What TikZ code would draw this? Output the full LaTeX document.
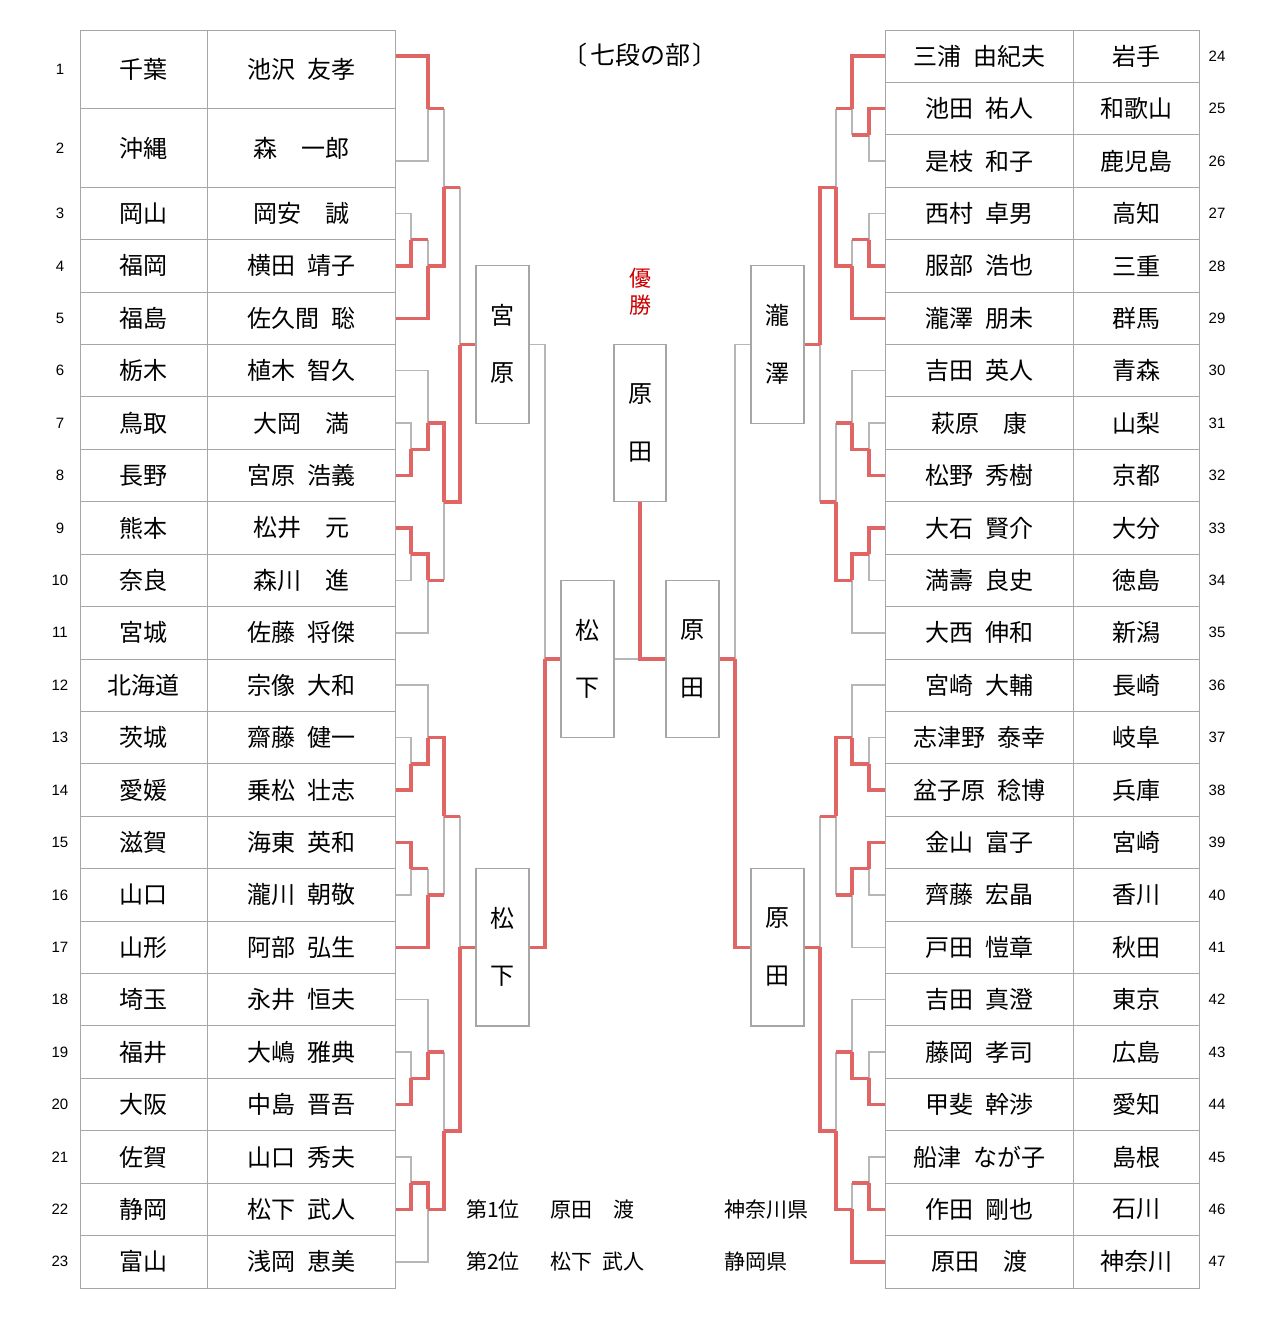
\documentclass[tikz,border=0pt]{standalone}
\usepackage{fontspec}
\setmainfont{Noto Sans CJK JP}
\newfontfamily\numfont{Liberation Sans}
\definecolor{linered}{HTML}{E06666}
\definecolor{linegray}{HTML}{B7B7B7}
\definecolor{tabgray}{HTML}{A6A6A6}
\definecolor{textred}{HTML}{CC0000}
\newcommand\hs{\hspace{0.5em}}
\pgfdeclarelayer{bg}
\pgfsetlayers{bg,main}
\begin{document}
\begin{tikzpicture}[x=1pt,y=-52.4167pt,
  lose/.style={draw=linegray,line width=1.5pt},
  win/.style={draw=linered,line width=3.5pt,line cap=square},
  tab/.style={draw=tabgray,line width=1pt},
  cell/.style={font=\fontsize{24}{28}\selectfont,inner sep=0pt},
  num/.style={font=\numfont\fontsize{15}{18}\selectfont,inner sep=0pt},
  rbox/.style={draw=tabgray,line width=1.2pt,fill=white,minimum width=53pt,minimum height=157.25pt,inner sep=0pt},
  bchar/.style={font=\fontsize{24}{28}\selectfont,inner sep=0pt},
  res/.style={font=\fontsize{21}{24}\selectfont,inner sep=0pt,anchor=west}]
\useasboundingbox (0,-1.07237) rectangle (1280,24.1103);

% ---------- tables ----------
\draw[tab] (80,-0.5) rectangle (395,23.5);
\draw[tab] (207,-0.5) -- (207,23.5);
\draw[tab] (80,1) -- (395,1);
\foreach \k in {3,...,23} \draw[tab] (80,{\k-0.5}) -- (395,{\k-0.5});
\draw[tab] (885,-0.5) rectangle (1199,23.5);
\draw[tab] (1073,-0.5) -- (1073,23.5);
\foreach \k in {1,...,23} \draw[tab] (885,{\k-0.5}) -- (1199,{\k-0.5});

% ---------- left table texts ----------
\foreach \n/\y/\p/\nm in {
 1/0.25/千葉/池沢\hs 友孝, 2/1.75/沖縄/森　一郎, 3/3/岡山/岡安　誠,
 4/4/福岡/横田\hs 靖子, 5/5/福島/佐久間\hs 聡, 6/6/栃木/植木\hs 智久,
 7/7/鳥取/大岡　満, 8/8/長野/宮原\hs 浩義, 9/9/熊本/松井　元,
 10/10/奈良/森川　進, 11/11/宮城/佐藤\hs 将傑, 12/12/北海道/宗像\hs 大和,
 13/13/茨城/齋藤\hs 健一, 14/14/愛媛/乗松\hs 壮志, 15/15/滋賀/海東\hs 英和,
 16/16/山口/瀧川\hs 朝敬, 17/17/山形/阿部\hs 弘生, 18/18/埼玉/永井\hs 恒夫,
 19/19/福井/大嶋\hs 雅典, 20/20/大阪/中島\hs 晋吾, 21/21/佐賀/山口\hs 秀夫,
 22/22/静岡/松下\hs 武人, 23/23/富山/浅岡\hs 恵美}{
  \node[num] (ln\n) at (60,\y) {\n};
  \node[cell] (lp\n) at (143.5,\y) {\p};
  \node[cell] (lm\n) at (301,\y) {\nm};
}
% ---------- right table texts ----------
\foreach \n/\nm/\p in {
 24/三浦\hs 由紀夫/岩手, 25/池田\hs 祐人/和歌山, 26/是枝\hs 和子/鹿児島,
 27/西村\hs 卓男/高知, 28/服部\hs 浩也/三重, 29/瀧澤\hs 朋未/群馬,
 30/吉田\hs 英人/青森, 31/萩原　康/山梨, 32/松野\hs 秀樹/京都,
 33/大石\hs 賢介/大分, 34/満壽\hs 良史/徳島, 35/大西\hs 伸和/新潟,
 36/宮崎\hs 大輔/長崎, 37/志津野\hs 泰幸/岐阜, 38/盆子原\hs 稔博/兵庫,
 39/金山\hs 富子/宮崎, 40/齊藤\hs 宏晶/香川, 41/戸田\hs 愷章/秋田,
 42/吉田\hs 真澄/東京, 43/藤岡\hs 孝司/広島, 44/甲斐\hs 幹渉/愛知,
 45/船津\hs なが子/島根, 46/作田\hs 剛也/石川, 47/原田　渡/神奈川}{
  \node[cell] (rm\n) at (979,{\n-24}) {\nm};
  \node[cell] (rp\n) at (1136,{\n-24}) {\p};
  \node[num] (rn\n) at (1217,{\n-24}) {\n};
}

% ---------- boxes ----------
\node[rbox] (miyahara) at (502.5,5.5) {};
\node[rbox] (matsuL) at (502.5,17) {};
\node[rbox] (semiL) at (587.5,11.5) {};
\node[rbox,minimum width=52pt] (final) at (640,7) {};
\node[rbox] (semiR) at (692.5,11.5) {};
\node[rbox] (takizawa) at (777.5,5.5) {};
\node[rbox] (haraR) at (777.5,17) {};
\node[bchar] (c1) at (502.5,4.95) {宮};
\node[bchar] (c2) at (502.5,6.05) {原};
\node[bchar] (c3) at (502.5,16.45) {松};
\node[bchar] (c4) at (502.5,17.55) {下};
\node[bchar] (c5) at (587.5,10.95) {松};
\node[bchar] (c6) at (587.5,12.05) {下};
\node[bchar] (c7) at (640,6.45) {原};
\node[bchar] (c8) at (640,7.55) {田};
\node[bchar] (c9) at (692.5,10.95) {原};
\node[bchar] (c10) at (692.5,12.05) {田};
\node[bchar] (c11) at (777.5,4.95) {瀧};
\node[bchar] (c12) at (777.5,6.05) {澤};
\node[bchar] (c13) at (777.5,16.45) {原};
\node[bchar] (c14) at (777.5,17.55) {田};

% ---------- other texts ----------
\node[font=\fontsize{25}{28}\selectfont,inner sep=0pt] (title) at (640,-0.02) {〔\hspace{0.1em}七段の部\hspace{0.1em}〕};
\node[font=\fontsize{22}{24}\selectfont,inner sep=0pt,text=textred] (yu) at (640,4.23) {優};
\node[font=\fontsize{22}{24}\selectfont,inner sep=0pt,text=textred] (sho) at (640,4.75) {勝};
\node[res] (r1a) at (466,22) {第1位};
\node[res] (r1b) at (550,22) {原田　渡};
\node[res] (r1c) at (724,22) {神奈川県};
\node[res] (r2a) at (466,23) {第2位};
\node[res] (r2b) at (550,23) {松下\hs 武人};
\node[res] (r2c) at (724,23) {静岡県};

% ---------- coordinates ----------
\coordinate (p1) at (395,0);
\coordinate (p2) at (395,2);
\foreach \k in {3,...,23} \coordinate (p\k) at (395,\k);
\foreach \k in {24,...,47} \coordinate (p\k) at (885,{\k-24});
\coordinate (A1) at (428,1);   \coordinate (A2) at (411,3.5);
\coordinate (A3) at (428,4);   \coordinate (A4) at (444,2.5);
\coordinate (A5) at (411,7.5); \coordinate (A6) at (428,7);
\coordinate (A7) at (411,9.5); \coordinate (A8) at (428,10);
\coordinate (A9) at (444,8.5); \coordinate (A10) at (460,5.5);
\coordinate (B1) at (411,13.5); \coordinate (B2) at (428,13);
\coordinate (B3) at (411,15.5); \coordinate (B4) at (428,16);
\coordinate (B5) at (444,14.5); \coordinate (B6) at (411,19.5);
\coordinate (B7) at (428,19);   \coordinate (B8) at (411,21.5);
\coordinate (B9) at (428,22);   \coordinate (B10) at (444,20.5);
\coordinate (B11) at (460,17);  \coordinate (C1) at (545,11.5);
\coordinate (D1) at (869,1.5); \coordinate (D2) at (852,1);
\coordinate (D3) at (869,3.5); \coordinate (D4) at (852,4);
\coordinate (D5) at (836,2.5); \coordinate (D6) at (869,7.5);
\coordinate (D7) at (852,7);   \coordinate (D8) at (869,9.5);
\coordinate (D9) at (852,10);  \coordinate (D10) at (836,8.5);
\coordinate (D11) at (820,5.5);
\coordinate (E1) at (869,13.5); \coordinate (E2) at (852,13);
\coordinate (E3) at (869,15.5); \coordinate (E4) at (852,16);
\coordinate (E5) at (836,14.5); \coordinate (E6) at (869,19.5);
\coordinate (E7) at (852,19);   \coordinate (E8) at (869,21.5);
\coordinate (E9) at (852,22);   \coordinate (E10) at (836,20.5);
\coordinate (E11) at (820,17);  \coordinate (F1) at (735,11.5);
\coordinate (fin) at (640,11.5);

\begin{pgfonlayer}{bg}
% ---------- losing paths ----------
\draw[lose] (p2) -| (A1);
\draw[lose] (p3) -| (A2);
\draw[lose] (A2 -| A3) -- (A3);
\draw[lose] (A1 -| A4) -- (A4);
\draw[lose] (p7) -| (A5);
\draw[lose] (p6) -| (A6);
\draw[lose] (p10) -| (A7);
\draw[lose] (p11) -| (A8);
\draw[lose] (A8 -| A9) -- (A9);
\draw[lose] (A4 -| A10) -- (A10);
\draw[lose] (p13) -| (B1);
\draw[lose] (p12) -| (B2);
\draw[lose] (p16) -| (B3);
\draw[lose] (B3 -| B4) -- (B4);
\draw[lose] (B4 -| B5) -- (B5);
\draw[lose] (p19) -| (B6);
\draw[lose] (p18) -| (B7);
\draw[lose] (p21) -| (B8);
\draw[lose] (p23) -| (B9);
\draw[lose] (B7 -| B10) -- (B10);
\draw[lose] (B5 -| B11) -- (B11);
\draw[lose] (miyahara.east) -| (C1);
\draw[lose] (p26) -| (D1);
\draw[lose] (D1 -| D2) -- (D2);
\draw[lose] (p27) -| (D3);
\draw[lose] (D3 -| D4) -- (D4);
\draw[lose] (D2 -| D5) -- (D5);
\draw[lose] (p31) -| (D6);
\draw[lose] (p30) -| (D7);
\draw[lose] (p34) -| (D8);
\draw[lose] (p35) -| (D9);
\draw[lose] (D7 -| D10) -- (D10);
\draw[lose] (D10 -| D11) -- (D11);
\draw[lose] (p37) -| (E1);
\draw[lose] (p36) -| (E2);
\draw[lose] (p40) -| (E3);
\draw[lose] (p41) -| (E4);
\draw[lose] (E4 -| E5) -- (E5);
\draw[lose] (p43) -| (E6);
\draw[lose] (p42) -| (E7);
\draw[lose] (p45) -| (E8);
\draw[lose] (E8 -| E9) -- (E9);
\draw[lose] (E7 -| E10) -- (E10);
\draw[lose] (E5 -| E11) -- (E11);
\draw[lose] (takizawa.west) -| (F1);
\draw[lose] (semiL.east) -- (fin);
% ---------- winning paths ----------
\draw[win] (p1) -| (A1);
\draw[win] (p4) -| (A2);
\draw[win] (A2) -- (A2 -| A3);
\draw[win] (p5) -| (A3);
\draw[win] (A1) -- (A1 -| A4);
\draw[win] (A3) -| (A4);
\draw[win] (A4) -- (A4 -| A10);
\draw[win] (p8) -| (A5);
\draw[win] (A5) -| (A6);
\draw[win] (p9) -| (A7);
\draw[win] (A7) -| (A8);
\draw[win] (A6) -| (A9);
\draw[win] (A8) -- (A8 -| A9);
\draw[win] (A9) -| (A10);
\draw[win] (A10) -- (miyahara.west);
\draw[win] (p14) -| (B1);
\draw[win] (B1) -| (B2);
\draw[win] (p15) -| (B3);
\draw[win] (B3) -- (B3 -| B4);
\draw[win] (p17) -| (B4);
\draw[win] (B2) -| (B5);
\draw[win] (B4) -- (B4 -| B5);
\draw[win] (p20) -| (B6);
\draw[win] (B6) -| (B7);
\draw[win] (p22) -| (B8);
\draw[win] (B8) -| (B9);
\draw[win] (B7) -- (B7 -| B10);
\draw[win] (B9) -| (B10);
\draw[win] (B5) -- (B5 -| B11);
\draw[win] (B10) -| (B11);
\draw[win] (B11) -- (matsuL.west);
\draw[win] (matsuL.east) -| (C1);
\draw[win] (C1) -- (semiL.west);
\draw[win] (p25) -| (D1);
\draw[win] (p24) -| (D2);
\draw[win] (D1) -- (D1 -| D2);
\draw[win] (p28) -| (D3);
\draw[win] (D3) -- (D3 -| D4);
\draw[win] (p29) -| (D4);
\draw[win] (D2) -- (D2 -| D5);
\draw[win] (D4) -| (D5);
\draw[win] (D5) -| (D11);
\draw[win] (p32) -| (D6);
\draw[win] (D6) -| (D7);
\draw[win] (p33) -| (D8);
\draw[win] (D8) -| (D9);
\draw[win] (D7) -- (D7 -| D10);
\draw[win] (D9) -| (D10);
\draw[win] (D10) -- (D10 -| D11);
\draw[win] (D11) -- (takizawa.east);
\draw[win] (p38) -| (E1);
\draw[win] (E1) -| (E2);
\draw[win] (p39) -| (E3);
\draw[win] (E3) -| (E4);
\draw[win] (E2) -| (E5);
\draw[win] (E4) -- (E4 -| E5);
\draw[win] (p44) -| (E6);
\draw[win] (E6) -| (E7);
\draw[win] (p46) -| (E8);
\draw[win] (E8) -- (E8 -| E9);
\draw[win] (p47) -| (E9);
\draw[win] (E7) -- (E7 -| E10);
\draw[win] (E9) -| (E10);
\draw[win] (E5) -- (E5 -| E11);
\draw[win] (E10) -| (E11);
\draw[win] (E11) -- (haraR.east);
\draw[win] (haraR.west) -| (F1);
\draw[win] (F1) -- (semiR.east);
\draw[win] (semiR.west) -- (fin) -- (final.south);
\end{pgfonlayer}
\end{tikzpicture}
\end{document}
